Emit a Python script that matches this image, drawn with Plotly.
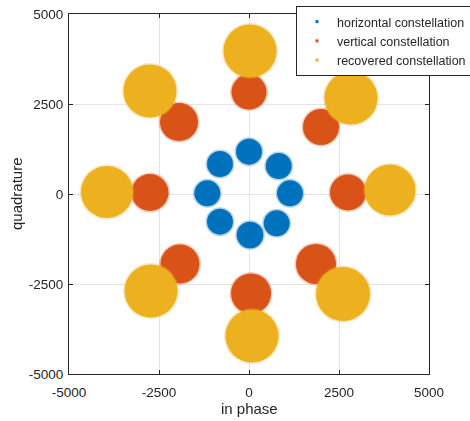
import plotly.graph_objects as go

# cluster centres (in phase, quadrature)
horiz_x = [0, 825, 1139, 769, 28, -806, -1158, -806]
horiz_y = [1175, 778, 19, -814, -1139, -769, 19, 833]
horiz_d = [720, 720, 720, 720, 740, 720, 720, 720]        # cluster spread (diameter, data units)

vert_x = [0, 2000, 2750, 1861, 56, -1917, -2750, -1944]
vert_y = [2833, 1861, 42, -1944, -2764, -1944, 42, 2000]
vert_d = [972, 1000, 1000, 1111, 1111, 1083, 1028, 1056]

rec_x = [28, 2833, 3917, 2611, 83, -2722, -3944, -2750]
rec_y = [3972, 2667, 111, -2778, -3944, -2694, 56, 2861]
rec_d = [1472, 1472, 1417, 1500, 1472, 1472, 1444, 1472]

names = ["horizontal constellation", "vertical constellation", "recovered constellation"]
colors = ["#0072BD", "#D95319", "#EDB120"]

W, H = 470, 421
ML, MR, MT, MB = 69, 41, 14, 47
PW, PH = W - ML - MR, H - MT - MB
PX_PER_UNIT = PW / 10000.0

fig = go.Figure()
series = [(horiz_x, horiz_y, horiz_d), (vert_x, vert_y, vert_d), (rec_x, rec_y, rec_d)]
for (xs, ys, ds), name, col in zip(series, names, colors):
    # soft fringe of scattered samples
    fig.add_trace(go.Scatter(x=xs, y=ys, mode="markers", showlegend=False, hoverinfo="skip",
                             opacity=0.3,
                             marker=dict(color=col, opacity=1, line=dict(width=0),
                                         size=[d * PX_PER_UNIT + 3 for d in ds])))
    fig.add_trace(go.Scatter(x=xs, y=ys, mode="markers", showlegend=False, opacity=1,
                             marker=dict(color=col, opacity=1, line=dict(width=0),
                                         size=[d * PX_PER_UNIT for d in ds])))
for name, col in zip(names, colors):
    fig.add_trace(go.Scatter(x=[None], y=[None], mode="markers", name=name,
                             marker=dict(color=col, size=3, symbol="square", line=dict(width=0))))

font = "Liberation Sans, Arial, sans-serif"
ink = "#262626"
ticks = [-5000, -2500, 0, 2500, 5000]
axis = dict(range=[-5000, 5000], tickvals=ticks, ticktext=[str(t) for t in ticks],
            ticks="inside", ticklen=4, tickcolor=ink, showline=True,
            linecolor=ink, linewidth=1, mirror="ticks", showgrid=True,
            gridcolor="#e4e4e4", zeroline=False,
            tickfont=dict(family=font, size=13.5, color=ink))

fig.update_layout(
    width=W, height=H, margin=dict(l=ML, r=MR, t=MT, b=MB, autoexpand=False),
    plot_bgcolor="white", paper_bgcolor="white",
    xaxis=dict(axis, ticklabelstandoff=6),
    yaxis=dict(axis, ticklabelstandoff=2),
    legend=dict(x=(472 - ML) / PW, xanchor="right", y=(H - MB - 6) / PH, yanchor="top",
                bgcolor="white", bordercolor=ink, borderwidth=1,
                font=dict(family=font, size=12.5, color=ink), tracegroupgap=0),
    annotations=[
        dict(text="in phase", xref="paper", yref="paper", x=0.5, y=(MT + PH - 408) / PH,
             xanchor="center", yanchor="middle", showarrow=False,
             font=dict(family=font, size=15, color=ink)),
        dict(text="quadrature", xref="paper", yref="paper", x=(16 - ML) / PW, y=0.5,
             xanchor="center", yanchor="middle", textangle=-90, showarrow=False,
             font=dict(family=font, size=15, color=ink)),
    ],
    showlegend=True,
)
fig.write_html("out.html")
